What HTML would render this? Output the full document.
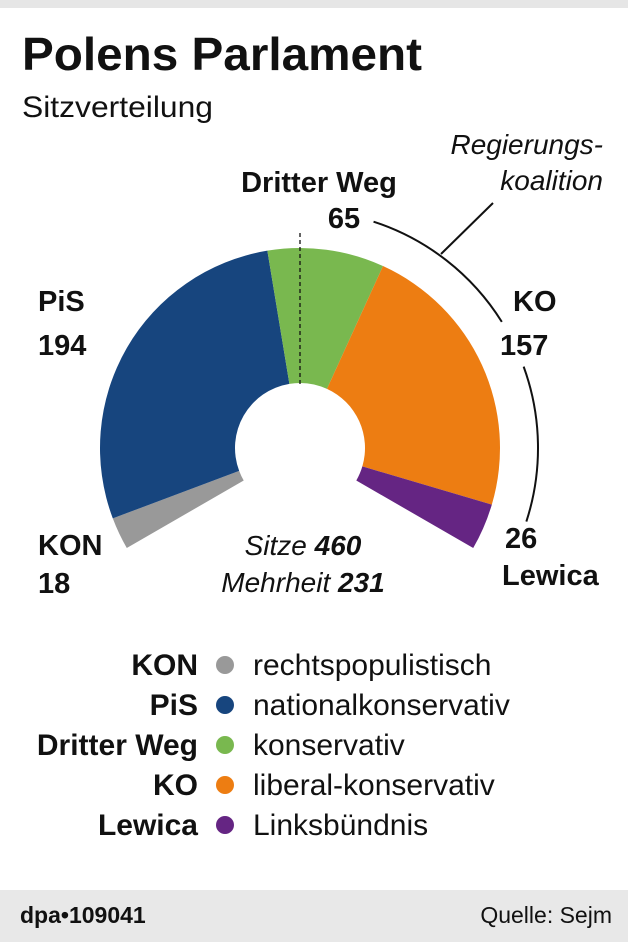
<!DOCTYPE html>
<html><head><meta charset="utf-8"><style>
body{margin:0;background:#fff}
svg{display:block;font-family:"Liberation Sans",sans-serif}
</style></head><body>
<svg width="628" height="942" viewBox="0 0 628 942">
<rect x="0" y="0" width="628" height="8" fill="#e6e6e6"/>
<text x="22" y="70" font-size="46" font-weight="bold" fill="#111" textLength="400" lengthAdjust="spacingAndGlyphs">Polens Parlament</text>
<text x="22" y="117" font-size="30" fill="#111" textLength="191" lengthAdjust="spacingAndGlyphs">Sitzverteilung</text>
<g id="wedges"></g>
<line x1="300" y1="233" x2="300" y2="385" stroke="#111" stroke-width="1.3" stroke-dasharray="4,3"/>
<path id="bracket1" fill="none" stroke="#111" stroke-width="2"/>
<path id="bracket2" fill="none" stroke="#111" stroke-width="2"/>
<line x1="441" y1="254" x2="493" y2="203" stroke="#111" stroke-width="2"/>
<text x="603" y="154" font-size="28" font-style="italic" text-anchor="end" fill="#111">Regierungs-</text>
<text x="603" y="190" font-size="28" font-style="italic" text-anchor="end" fill="#111">koalition</text>
<g font-size="29" font-weight="bold" fill="#111">
<text x="319" y="192" text-anchor="middle">Dritter Weg</text>
<text x="344" y="228" text-anchor="middle">65</text>
<text x="38" y="311">PiS</text>
<text x="38" y="355">194</text>
<text x="513" y="311">KO</text>
<text x="500" y="355">157</text>
<text x="38" y="555">KON</text>
<text x="38" y="593">18</text>
<text x="505" y="548">26</text>
<text x="502" y="585">Lewica</text>
</g>
<text x="303" y="555" font-size="28" font-style="italic" text-anchor="middle" fill="#111">Sitze <tspan font-weight="bold">460</tspan></text>
<text x="303" y="592" font-size="28" font-style="italic" text-anchor="middle" fill="#111">Mehrheit <tspan font-weight="bold">231</tspan></text>
<g id="legend" font-size="30" fill="#111"></g>
<rect x="0" y="890" width="628" height="52" fill="#e8e8e8"/>
<text x="20" y="923" font-size="23" font-weight="bold" fill="#111">dpa•109041</text>
<text x="612" y="923" font-size="23" text-anchor="end" fill="#111">Quelle: Sejm</text>
</svg>
<script>
const parties = ["KON","PiS","Dritter Weg","KO","Lewica"];
const seats = [18,194,65,157,26];
const colors = ["#999999","#17457e","#79b84f","#ed7d12","#652583"];
const descriptions = ["rechtspopulistisch","nationalkonservativ","konservativ","liberal-konservativ","Linksbündnis"];
const NS="http://www.w3.org/2000/svg";
const cx=300, cy=448, R=200, r=65, span=240;
const total=seats.reduce((a,b)=>a+b,0);
function ang(s){return (-span/2 + s/total*span)*Math.PI/180;}
function pt(a,rad){return [cx+rad*Math.sin(a), cy-rad*Math.cos(a)];}
function arc(a0,a1,rad){const p0=pt(a0,rad),p1=pt(a1,rad);return `M${p0[0]},${p0[1]} A${rad},${rad} 0 ${a1-a0>Math.PI?1:0} 1 ${p1[0]},${p1[1]}`;}
const wg=document.getElementById('wedges');
let cum=0;
seats.forEach((v,i)=>{
  const a0=ang(cum),a1=ang(cum+v);cum+=v;
  const o0=pt(a0,R),o1=pt(a1,R),i1=pt(a1,r),i0=pt(a0,r);
  const large=(a1-a0)>Math.PI?1:0;
  const p=document.createElementNS(NS,'path');
  p.setAttribute('d',`M${o0[0]},${o0[1]} A${R},${R} 0 ${large} 1 ${o1[0]},${o1[1]} L${i1[0]},${i1[1]} A${r},${r} 0 ${large} 0 ${i0[0]},${i0[1]}Z`);
  p.setAttribute('fill',colors[i]);
  
  
  wg.appendChild(p);
});
const br=238;
const b0=18*Math.PI/180, b1=58*Math.PI/180, b2=70*Math.PI/180, b3=ang(total)-12*Math.PI/180;
document.getElementById('bracket1').setAttribute('d',arc(b0,b1,br));
document.getElementById('bracket2').setAttribute('d',arc(b2,b3,br));
const lg=document.getElementById('legend');
parties.forEach((p,i)=>{
  const y=675+i*40;
  const t=document.createElementNS(NS,'text');
  t.setAttribute('x',198);t.setAttribute('y',y);t.setAttribute('text-anchor','end');t.setAttribute('font-weight','bold');
  t.textContent=p;
  
  
  lg.appendChild(t);
  const c=document.createElementNS(NS,'circle');
  c.setAttribute('cx',225);c.setAttribute('cy',y-10);c.setAttribute('r',9);c.setAttribute('fill',colors[i]);
  
  
  lg.appendChild(c);
  const d=document.createElementNS(NS,'text');
  d.setAttribute('x',253);d.setAttribute('y',y);
  d.textContent=descriptions[i];
  
  
  lg.appendChild(d);
});
</script>
</body></html>
